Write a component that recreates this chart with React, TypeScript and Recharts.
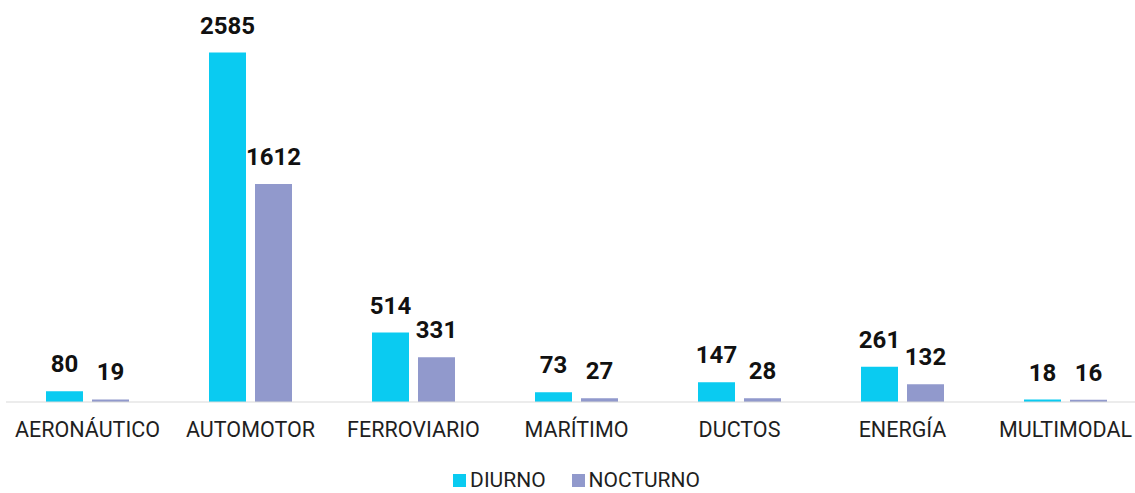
import { Bar, BarChart, LabelList, Legend, XAxis, YAxis } from "recharts";

const categories = [
  "AERONÁUTICO",
  "AUTOMOTOR",
  "FERROVIARIO",
  "MARÍTIMO",
  "DUCTOS",
  "ENERGÍA",
  "MULTIMODAL",
];
const diurno = [80, 2585, 514, 73, 147, 261, 18];
const nocturno = [19, 1612, 331, 27, 28, 132, 16];

const seriesInfo = [
  { key: "diurno", name: "DIURNO", color: "#0ACBF1" },
  { key: "nocturno", name: "NOCTURNO", color: "#9199CC" },
];

const data = categories.map((c, i) => ({
  name: c,
  diurno: diurno[i],
  nocturno: nocturno[i],
}));

const FONT = "Roboto, 'Noto Sans', sans-serif";

function ChartLegend() {
  return (
    <div
      style={{
        height: 36,
        paddingTop: 11,
        boxSizing: "border-box",
        display: "flex",
        justifyContent: "center",
        alignItems: "center",
        gap: 26,
        fontFamily: FONT,
        fontSize: 21,
        lineHeight: "25px",
        color: "#1f1f1f",
      }}
    >
      {seriesInfo.map((s) => (
        <span key={s.key} style={{ display: "flex", alignItems: "center" }}>
          <span
            style={{
              width: 13,
              height: 13,
              background: s.color,
              marginRight: 4,
              display: "inline-block",
            }}
          />
          {s.name}
        </span>
      ))}
    </div>
  );
}

export default function App() {
  return (
    <div
      style={{
        position: "absolute",
        left: 0,
        top: 0,
        width: 1135,
        height: 493,
        overflow: "hidden",
        background: "#fff",
      }}
    >
      <BarChart
        width={1147}
        height={493}
        data={data}
        margin={{ top: 10, right: 0, left: 6, bottom: 0 }}
        barSize={37}
        barGap={9}
      >
        <XAxis
          dataKey="name"
          axisLine={{ stroke: "#d9d9d9", strokeWidth: 1 }}
          tickLine={false}
          tickSize={0}
          tickMargin={20}
          height={55}
          interval={0}
          tick={{ fill: "#1f1f1f", fontSize: 21.5, fontFamily: FONT }}
        />
        <YAxis hide domain={[0, 2900]} />
        <Legend verticalAlign="bottom" content={<ChartLegend />} />
        {seriesInfo.map((s) => (
          <Bar
            key={s.key}
            dataKey={s.key}
            name={s.name}
            fill={s.color}
            isAnimationActive={false}
          >
            <LabelList
              dataKey={s.key}
              position="top"
              offset={19}
              style={{
                fill: "#111",
                fontSize: 24,
                fontWeight: 700,
                fontFamily: FONT,
              }}
            />
          </Bar>
        ))}
      </BarChart>
    </div>
  );
}
